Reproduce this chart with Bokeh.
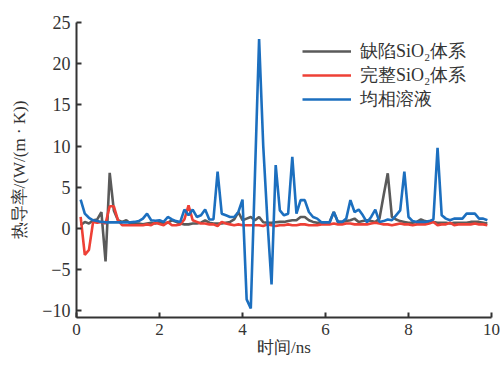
from bokeh.plotting import figure
from bokeh.models import Range1d, FixedTicker, Legend, LegendItem
from bokeh.embed import file_html
from bokeh.resources import INLINE

x_vals = [round(0.1 * i, 1) for i in range(1, 100)]

defect = [0.4, 0.8, 0.6, 1.0, 1.1, 2.0, -4.0, 6.75, 2.2, 1.0,
          0.8, 1.0, 0.6, 0.6, 0.6, 0.5, 0.6, 0.7, 0.6, 0.8,
          0.6, 0.7, 1.0, 0.8, 0.6, 0.5, 0.5, 0.6, 0.6, 0.7,
          1.0, 0.7, 0.6, 0.6, 0.6, 0.7, 0.8, 1.1, 2.0, 1.0,
          1.2, 1.4, 1.0, 1.4, 0.75, 0.7, 0.7, 0.75, 0.8, 0.8,
          0.9, 1.0, 1.0, 1.4, 1.4, 1.0, 0.8, 0.7, 0.7, 0.7,
          0.8, 2.0, 0.8, 0.8, 0.9, 1.0, 1.2, 0.8, 0.9, 1.0,
          0.9, 0.8, 1.2, 4.0, 6.7, 1.4, 1.1, 0.9, 0.8, 0.7,
          0.7, 0.8, 1.1, 0.9, 0.8, 0.8, 0.7, 0.7, 0.7, 0.6,
          0.7, 0.7, 0.7, 0.7, 0.8, 0.8, 0.8, 0.7, 0.6]

perfect = [1.4, -3.2, -2.6, 0.8, 0.7, 0.8, 0.6, 2.7, 2.7, 1.0,
           0.4, 0.4, 0.4, 0.4, 0.4, 0.4, 0.5, 0.4, 0.7, 0.55,
           0.4, 0.8, 0.4, 0.4, 0.5, 1.1, 2.8, 1.0, 0.8, 0.6,
           0.6, 0.5, 0.5, 0.3, 0.8, 0.6, 0.5, 0.4, 0.5, 0.4,
           0.4, 0.4, 0.4, 0.4, 0.3, 0.5, 0.4, 0.3, 0.4, 0.4,
           0.5, 0.4, 0.4, 0.5, 0.5, 0.4, 0.4, 0.4, 0.5, 0.5,
           0.5, 0.6, 0.5, 0.5, 0.6, 0.6, 0.5, 0.5, 0.5, 0.5,
           0.6, 0.7, 0.6, 0.5, 0.5, 0.4, 0.5, 0.6, 0.5, 0.5,
           0.4, 0.5, 0.5, 0.5, 0.6, 0.8, 0.4, 0.5, 0.5, 0.7,
           0.4, 0.5, 0.5, 0.5, 0.5, 0.6, 0.5, 0.5, 0.4]

solution = [3.5, 1.8, 1.3, 1.0, 0.9, 0.8, 0.75, 0.75, 0.75, 0.75,
            0.75, 0.75, 0.75, 0.8, 0.9, 1.2, 1.8, 1.0, 0.95, 1.0,
            0.8, 1.4, 1.1, 0.9, 0.8, 2.3, 1.6, 2.3, 1.4, 1.6,
            2.3, 1.1, 1.1, 6.9, 1.8, 1.6, 1.4, 1.4, 2.0, 3.5,
            -8.6, -9.7, 6.5, 23.0, 10.0, 1.0, -6.8, 7.7, 2.2, 1.6,
            1.8, 8.7, 1.8, 3.45, 3.45, 2.0, 1.4, 1.2, 0.75, 0.75,
            0.75, 2.0, 0.8, 0.8, 1.2, 3.45, 2.0, 2.3, 1.6, 0.75,
            1.4, 2.3, 0.8, 0.9, 1.1, 1.0, 1.6, 2.2, 6.9, 1.4,
            0.9, 0.8, 0.8, 0.8, 0.9, 1.1, 9.8, 1.6, 1.2, 1.0,
            1.2, 1.2, 1.2, 1.8, 1.8, 1.8, 1.2, 1.2, 1.0]

series_names = ["缺陷SiO₂体系", "完整SiO₂体系", "均相溶液"]
colors = ["#5a5a5a", "#ee4036", "#1c6fbf"]
x_ticks = [0, 2, 4, 6, 8, 10]
y_ticks = [-10, -5, 0, 5, 10, 15, 20, 25]

FONT = "Liberation Serif"

p = figure(width=502, height=365, output_backend="svg", toolbar_location=None,
           x_range=Range1d(0, 10), y_range=Range1d(-10.8, 25),
           min_border_left=76, min_border_right=11, min_border_top=22,
           min_border_bottom=48)
p.outline_line_color = None
p.grid.visible = False
p.background_fill_color = "white"

renderers = []
for ys, c in zip([defect, perfect, solution], colors):
    r = p.line(x_vals, ys, line_color=c, line_width=2.6)
    renderers.append(r)

for ax in (p.xaxis[0], p.yaxis[0]):
    ax.axis_line_width = 2
    ax.axis_line_color = "#333333"
    ax.major_tick_line_color = "#333333"
    ax.major_tick_line_width = 2
    ax.major_tick_in = 5
    ax.major_tick_out = 0
    ax.minor_tick_line_color = None
    ax.major_label_text_font = FONT
    ax.major_label_text_font_size = "18px"
    ax.major_label_text_color = "#333333"
    ax.axis_label_text_font = FONT
    ax.axis_label_text_font_size = "17px"
    ax.axis_label_text_font_style = "normal"
    ax.axis_label_text_color = "#333333"

p.xaxis.ticker = FixedTicker(ticks=x_ticks)
p.yaxis.ticker = FixedTicker(ticks=y_ticks)
p.xaxis.axis_label = "时间/ns"
p.yaxis.axis_label = "热导率/(W/(m · K))"
p.xaxis.major_label_text_font_size = "17px"
p.xaxis.major_label_standoff = 6
p.xaxis.axis_label_standoff = 0
p.yaxis.major_label_standoff = 6
p.yaxis.axis_label_standoff = 10

items = [LegendItem(label=n, renderers=[r]) for n, r in zip(series_names, renderers)]
legend = Legend(items=items, location=(226, 206))
legend.border_line_color = None
legend.background_fill_alpha = 0
legend.padding = 0
legend.margin = 0
legend.spacing = 0
legend.glyph_width = 49
legend.glyph_height = 24
legend.label_height = 24
legend.label_standoff = 9
legend.label_text_font = FONT
legend.label_text_font_size = "18px"
legend.label_text_color = "#333333"
p.add_layout(legend, "center")

open("out.html", "w").write(file_html(p, INLINE))
